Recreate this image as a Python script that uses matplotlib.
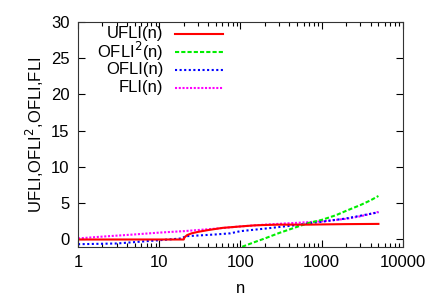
import matplotlib
matplotlib.use("Agg")
import matplotlib.pyplot as plt
from matplotlib.ticker import LogLocator, NullFormatter, FixedLocator

plt.rcParams['font.family'] = ['Liberation Sans', 'DejaVu Sans']

# Data
ufli_n = [1, 20, 20.5, 22, 25, 30, 40, 60, 100, 150, 200, 300, 500, 700, 1000, 2000, 5000]
ufli_v = [0, 0, 0.3, 0.6, 0.85, 1.05, 1.3, 1.6, 1.8, 1.95, 2.0, 2.05, 2.05, 2.05, 2.08, 2.12, 2.15]

ofli2_n = [105, 150, 200, 300, 500, 700, 1000, 1500, 2000, 3000, 4000, 5000]
ofli2_v = [-1.0, -0.35, 0.15, 0.9, 1.75, 2.3, 2.7, 3.35, 3.95, 4.75, 5.4, 6.0]

ofli_n = [1, 3, 10, 19, 20, 21, 30, 50, 75, 100, 200, 500, 1000, 2000, 5000]
ofli_v = [-0.65, -0.55, -0.1, 0.15, 0.3, 0.45, 0.55, 0.7, 0.85, 1.15, 1.5, 2.0, 2.45, 2.9, 3.75]

fli_n = [1, 2, 5, 10, 20, 50, 100, 200, 500, 1000, 2000, 3000, 5000]
fli_v = [0.15, 0.4, 0.7, 0.95, 1.15, 1.5, 1.8, 2.05, 2.3, 2.5, 2.85, 3.2, 3.8]

labels = ['UFLI(n)', 'OFLI$^2$(n)', 'OFLI(n)', 'FLI(n)']
y_ticks = [0, 5, 10, 15, 20, 25, 30]
x_ticks = [1, 10, 100, 1000, 10000]
x_ticklabels = ['1', '10', '100', '1000', '10000']

fig = plt.figure(figsize=(4.36, 3.05), dpi=100)
ax = fig.add_axes([0.179, 0.191, 0.745, 0.737])

series = [
    (ufli_n, ufli_v, dict(color='#ff0000', lw=1.5, ls='-')),
    (ofli2_n, ofli2_v, dict(color='#00ee00', lw=1.5, ls=(0, (2, 1)))),
    (ofli_n, ofli_v, dict(color='#0000ff', lw=1.5, ls=(0, (1, 1.2)))),
    (fli_n, fli_v, dict(color='#ff00ff', lw=1.5, ls=(0, (1, 0.8)))),
]
# draw order: FLI underneath
for xs, ys, st in [series[3], series[2], series[1], series[0]]:
    ax.plot(xs, ys, **st)

ax.set_xscale('log')
ax.set_xlim(1, 10000)
ax.set_ylim(-1, 30)
ax.xaxis.set_major_locator(FixedLocator(x_ticks))
ax.set_xticklabels(x_ticklabels)
ax.xaxis.set_minor_locator(LogLocator(base=10, subs=range(2, 10)))
ax.xaxis.set_minor_formatter(NullFormatter())
ax.set_yticks(y_ticks)
ax.tick_params(which='both', direction='in', top=True, right=True, labelsize=12, pad=6)
ax.tick_params(which='major', length=5, width=0.8)
ax.tick_params(which='minor', length=3, width=0.8)
for s in ax.spines.values():
    s.set_linewidth(0.8)
    s.set_color('#333333')

ax.set_xlabel('n', fontsize=12, labelpad=8)
ax.set_ylabel('UFLI,OFLI$^2$,OFLI,FLI', fontsize=12, labelpad=4)

# gnuplot-style key: right-aligned text followed by sample line
key_y = [0.948, 0.868, 0.788, 0.708]
for (xs, ys, st), lab, yk in zip(series, labels, key_y):
    ax.text(0.262, yk, lab, transform=ax.transAxes, ha='right', va='center', fontsize=12)
    ax.plot([0.297, 0.445], [yk, yk], transform=ax.transAxes, **st)

fig.savefig('out.png', dpi=100)
